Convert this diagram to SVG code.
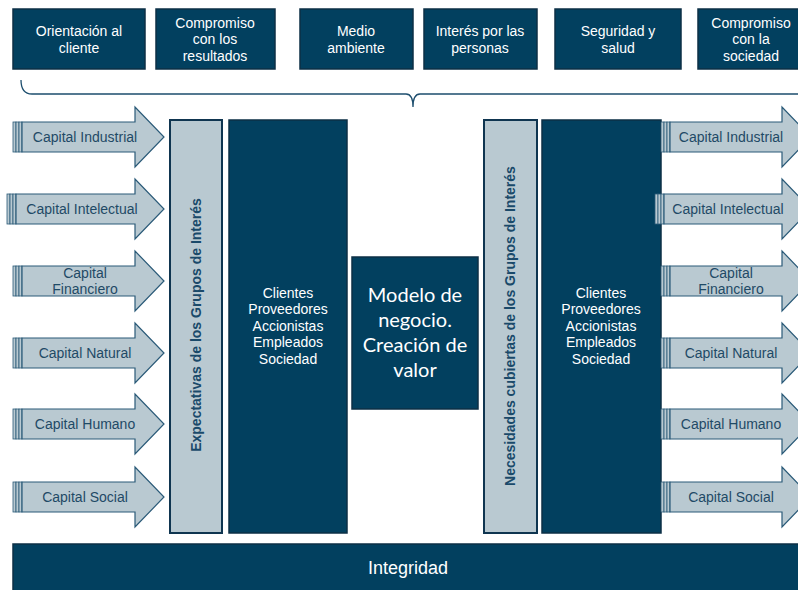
<svg xmlns="http://www.w3.org/2000/svg" width="798" height="590" viewBox="0 0 798 590">
<style>
.dk{fill:#02405f;stroke:#0d2f45;stroke-width:1.5}
.lt{fill:#b9c9d1;stroke:#0f3550;stroke-width:2}
.arr{fill:#b9c9d1;stroke:#2a5a78;stroke-width:1.2}
.tail{fill:#b9c9d1;stroke:#2a5a78;stroke-width:0.8}
.wt{font-family:"Liberation Sans",Arial,sans-serif;font-size:14px;fill:#ffffff;text-anchor:middle}
.at{font-family:"Liberation Sans",Arial,sans-serif;font-size:14px;fill:#1f4a66;text-anchor:middle}
.vt{font-family:"Liberation Sans",Arial,sans-serif;font-size:14px;font-weight:bold;fill:#1a4a6a;text-anchor:middle}
.ct{font-family:Lato,"Open Sans",sans-serif;font-size:20px;fill:#ffffff;text-anchor:middle}
</style>
<defs>
<g id="tailL">
<rect class="tail" x="0" y="-15" width="3" height="30"/>
<rect class="tail" x="3" y="-15" width="3" height="30"/>
<rect class="tail" x="6" y="-15" width="3" height="30"/>
</g>
</defs>
<rect width="798" height="590" fill="#ffffff"/>

<g id="values">
<g id="v1"><rect class="dk" x="13" y="9" width="132" height="60"/><text class="wt" x="79" y="36">Orientación al</text><text class="wt" x="79" y="53">cliente</text></g>
<g id="v2"><rect class="dk" x="156" y="9" width="119" height="60"/><text class="wt" x="215" y="28">Compromiso</text><text class="wt" x="215" y="44">con los</text><text class="wt" x="215" y="61">resultados</text></g>
<g id="v3"><rect class="dk" x="300" y="9" width="113" height="60"/><text class="wt" x="356" y="36">Medio</text><text class="wt" x="356" y="53">ambiente</text></g>
<g id="v4"><rect class="dk" x="424" y="9" width="113" height="60"/><text class="wt" x="480" y="36">Interés por las</text><text class="wt" x="480" y="53">personas</text></g>
<g id="v5"><rect class="dk" x="555" y="9" width="126" height="60"/><text class="wt" x="618" y="36">Seguridad y</text><text class="wt" x="618" y="53">salud</text></g>
<g id="v6"><rect class="dk" x="698" y="9" width="110" height="60"/><text class="wt" x="751" y="28">Compromiso</text><text class="wt" x="751" y="44">con la</text><text class="wt" x="751" y="61">sociedad</text></g>
</g>

<g id="connectors">
<path d="M21,80 Q21,94 32,94 L406,94 Q413,94 413,107 Q413,94 420,94 L798,94" fill="none" stroke="#1d4e6e" stroke-width="1.3"/>
</g>

<g id="inputs">
<g id="in1"><use href="#tailL" x="13" y="137"/><path class="arr" d="M22,122 L135,122 L135,107 L164,137 L135,167 L135,152 L22,152 Z"/><text class="at" x="85" y="142">Capital Industrial</text></g>
<g id="in2"><use href="#tailL" x="7" y="209"/><path class="arr" d="M16,194 L135,194 L135,179 L164,209 L135,239 L135,224 L16,224 Z"/><text class="at" x="82" y="214">Capital Intelectual</text></g>
<g id="in3"><use href="#tailL" x="13" y="281"/><path class="arr" d="M22,266 L135,266 L135,251 L164,281 L135,311 L135,296 L22,296 Z"/><text class="at" x="85" y="278">Capital</text><text class="at" x="85" y="294">Financiero</text></g>
<g id="in4"><use href="#tailL" x="13" y="353"/><path class="arr" d="M22,338 L135,338 L135,323 L164,353 L135,383 L135,368 L22,368 Z"/><text class="at" x="85" y="358">Capital Natural</text></g>
<g id="in5"><use href="#tailL" x="13" y="424"/><path class="arr" d="M22,409 L135,409 L135,394 L164,424 L135,454 L135,439 L22,439 Z"/><text class="at" x="85" y="429">Capital Humano</text></g>
<g id="in6"><use href="#tailL" x="13" y="497"/><path class="arr" d="M22,482 L135,482 L135,467 L164,497 L135,527 L135,512 L22,512 Z"/><text class="at" x="85" y="502">Capital Social</text></g>
</g>

<g id="expectativas"><rect class="lt" x="170" y="120" width="52" height="413"/><text class="vt" transform="translate(201,325) rotate(-90)">Expectativas de los Grupos de Interés</text></g>
<g id="grupos1"><rect class="dk" x="229" y="120" width="118" height="413"/><text class="wt" x="288" y="298">Clientes</text><text class="wt" x="288" y="314">Proveedores</text><text class="wt" x="288" y="331">Accionistas</text><text class="wt" x="288" y="347">Empleados</text><text class="wt" x="288" y="364">Sociedad</text></g>
<g id="modelo"><rect class="dk" x="352" y="257" width="126" height="152"/><text class="ct" x="415" y="302">Modelo de</text><text class="ct" x="415" y="327">negocio.</text><text class="ct" x="415" y="352">Creación de</text><text class="ct" x="415" y="377">valor</text></g>
<g id="necesidades"><rect class="lt" x="484" y="120" width="53" height="413"/><text class="vt" transform="translate(515,326) rotate(-90)">Necesidades cubiertas  de los Grupos de Interés</text></g>
<g id="grupos2"><rect class="dk" x="542" y="120" width="119" height="413"/><text class="wt" x="601" y="298">Clientes</text><text class="wt" x="601" y="314">Proveedores</text><text class="wt" x="601" y="331">Accionistas</text><text class="wt" x="601" y="347">Empleados</text><text class="wt" x="601" y="364">Sociedad</text></g>

<g id="outputs">
<g id="out1"><use href="#tailL" x="661" y="137"/><path class="arr" d="M670,122 L782,122 L782,107 L811,137 L782,167 L782,152 L670,152 Z"/><text class="at" x="731" y="142">Capital Industrial</text></g>
<g id="out2"><use href="#tailL" x="655" y="209"/><path class="arr" d="M664,194 L782,194 L782,179 L811,209 L782,239 L782,224 L664,224 Z"/><text class="at" x="728" y="214">Capital Intelectual</text></g>
<g id="out3"><use href="#tailL" x="661" y="281"/><path class="arr" d="M670,266 L782,266 L782,251 L811,281 L782,311 L782,296 L670,296 Z"/><text class="at" x="731" y="278">Capital</text><text class="at" x="731" y="294">Financiero</text></g>
<g id="out4"><use href="#tailL" x="661" y="353"/><path class="arr" d="M670,338 L782,338 L782,323 L811,353 L782,383 L782,368 L670,368 Z"/><text class="at" x="731" y="358">Capital Natural</text></g>
<g id="out5"><use href="#tailL" x="661" y="424"/><path class="arr" d="M670,409 L782,409 L782,394 L811,424 L782,454 L782,439 L670,439 Z"/><text class="at" x="731" y="429">Capital Humano</text></g>
<g id="out6"><use href="#tailL" x="661" y="497"/><path class="arr" d="M670,482 L782,482 L782,467 L811,497 L782,527 L782,512 L670,512 Z"/><text class="at" x="731" y="502">Capital Social</text></g>
</g>

<g id="integridad"><rect class="dk" x="13" y="544" width="800" height="50"/><text class="wt" x="408" y="574" style="font-size:18px">Integridad</text></g>
</svg>
